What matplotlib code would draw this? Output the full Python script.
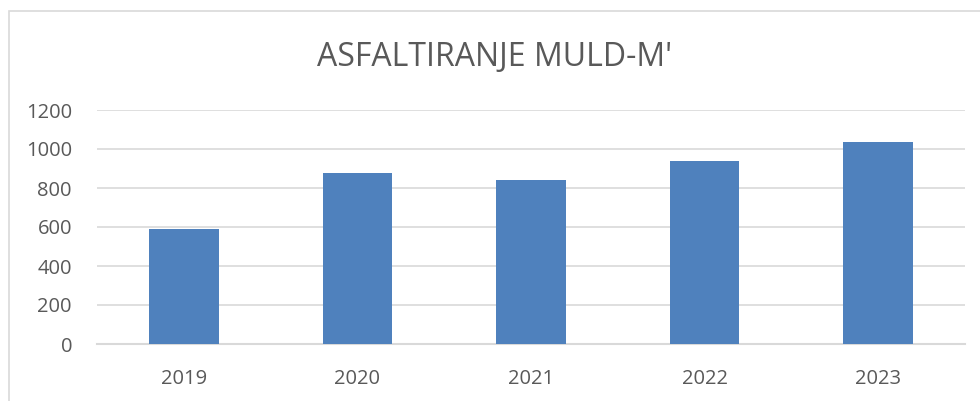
import matplotlib
matplotlib.use('Agg')
import matplotlib.pyplot as plt
from matplotlib.patches import Rectangle

# data
years = ['2019', '2020', '2021', '2022', '2023']
metres = [590, 876, 840, 940, 1038]
y_ticks = [0, 200, 400, 600, 800, 1000, 1200]

plt.rcParams['font.family'] = ['Open Sans', 'DejaVu Sans']
txt_col = '#595959'
grid_col = '#d9d9d9'

fig = plt.figure(figsize=(9.8, 4.01), dpi=100)
# chart frame (cut off at right/bottom in the original)
fig.patches.append(Rectangle((9 / 980, -0.1), 1.2, (401 - 11) / 401 + 0.1,
                             transform=fig.transFigure, fill=False,
                             edgecolor=grid_col, lw=1.2))

ax = fig.add_axes([97 / 980, 1 - 344 / 401, (965 - 97) / 980, (344 - 110) / 401])
ax.bar(range(len(years)), metres, width=0.4, color='#4f81bd', zorder=3)
ax.set_xlim(-0.5, len(years) - 0.5)
ax.set_ylim(0, 1200)
ax.set_yticks(y_ticks)
ax.set_xticks(range(len(years)))
ax.set_xticklabels(years)
ax.grid(axis='y', color=grid_col, lw=1.2, zorder=0)
for s in ['top', 'right', 'left']:
    ax.spines[s].set_visible(False)
ax.spines['bottom'].set_color(grid_col)
ax.spines['bottom'].set_linewidth(1.5)
ax.tick_params(length=0, labelsize=14.5, colors=txt_col)
ax.tick_params(axis='y', pad=18)
ax.tick_params(axis='x', pad=18)

fig.text(495 / 980, 1 - 57 / 401, "ASFALTIRANJE MULD-M'", ha='center', va='center',
         fontsize=23, color=txt_col)

fig.savefig('out.png', dpi=100)
